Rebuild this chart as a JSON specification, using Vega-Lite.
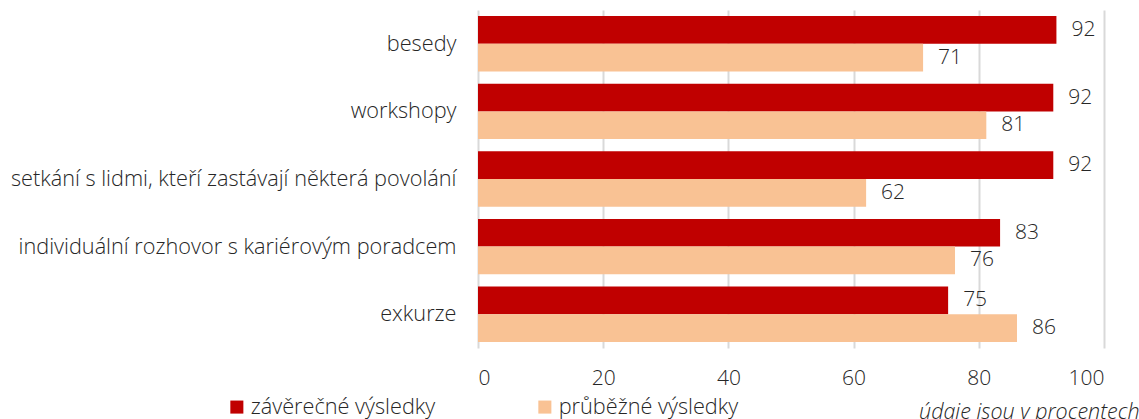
{
  "$schema": "https://vega.github.io/schema/vega-lite/v6.json",
  "width": 626,
  "height": 338,
  "autosize": {"type": "none"},
  "padding": {"left": 478, "top": 10, "right": 35, "bottom": 71},
  "background": "white",
  "config": {
    "font": "Open Sans",
    "view": {"stroke": null}
  },
  "data": {
    "values": [
      {"kategorie": "besedy", "serie": "závěrečné výsledky", "hodnota": 92.4},
      {"kategorie": "besedy", "serie": "průběžné výsledky", "hodnota": 71.1},
      {"kategorie": "workshopy", "serie": "závěrečné výsledky", "hodnota": 91.9},
      {"kategorie": "workshopy", "serie": "průběžné výsledky", "hodnota": 81.2},
      {"kategorie": "setkání s lidmi, kteří zastávají některá povolání", "serie": "závěrečné výsledky", "hodnota": 91.9},
      {"kategorie": "setkání s lidmi, kteří zastávají některá povolání", "serie": "průběžné výsledky", "hodnota": 62.0},
      {"kategorie": "individuální rozhovor s kariérovým poradcem", "serie": "závěrečné výsledky", "hodnota": 83.4},
      {"kategorie": "individuální rozhovor s kariérovým poradcem", "serie": "průběžné výsledky", "hodnota": 76.2},
      {"kategorie": "exkurze", "serie": "závěrečné výsledky", "hodnota": 75.1},
      {"kategorie": "exkurze", "serie": "průběžné výsledky", "hodnota": 86.1}
    ]
  },
  "encoding": {
    "y": {
      "field": "kategorie",
      "type": "nominal",
      "sort": null,
      "scale": {"paddingInner": 0.18, "paddingOuter": 0.09},
      "axis": {
        "title": null,
        "ticks": false,
        "domain": false,
        "labelPadding": 22,
        "labelFontSize": 21.7,
        "labelColor": "#262626",
        "labelFontWeight": 300,
        "labelLimit": 500
      }
    },
    "yOffset": {
      "field": "serie",
      "type": "nominal",
      "sort": ["závěrečné výsledky", "průběžné výsledky"],
      "scale": {"paddingInner": 0, "paddingOuter": 0}
    },
    "x": {
      "field": "hodnota",
      "type": "quantitative",
      "scale": {"domain": [0, 100]},
      "axis": {
        "values": [0, 20, 40, 60, 80, 100],
        "grid": true,
        "gridColor": "#d9d9d9",
        "gridWidth": 2,
        "ticks": false,
        "domain": false,
        "labelPadding": 19,
        "labelFontSize": 21,
        "labelColor": "#262626",
        "labelFontWeight": 300,
        "title": "údaje jsou v procentech",
        "titleFontStyle": "italic",
        "titleFontWeight": 300,
        "titleFontSize": 21.5,
        "titleColor": "#262626",
        "titleAnchor": "end",
        "titleAlign": "right",
        "titleBaseline": "alphabetic",
        "titleX": 661,
        "titleY": 70
      }
    }
  },
  "layer": [
    {
      "mark": {"type": "bar"},
      "encoding": {
        "color": {
          "field": "serie",
          "type": "nominal",
          "sort": ["závěrečné výsledky", "průběžné výsledky"],
          "scale": {
            "domain": ["závěrečné výsledky", "průběžné výsledky"],
            "range": ["#c00000", "#f9c294"]
          },
          "legend": {
            "title": null,
            "orient": "none",
            "legendX": -252,
            "legendY": 386,
            "direction": "horizontal",
            "symbolType": "square",
            "symbolSize": 170,
            "symbolStrokeWidth": 0,
            "symbolOpacity": 1,
            "labelFontSize": 21.7,
            "labelColor": "#262626",
            "labelFontWeight": 300,
            "labelOffset": 3,
            "labelLimit": 400,
            "columnPadding": 98
          }
        }
      }
    },
    {
      "mark": {"type": "text", "align": "left", "dx": 15, "fontSize": 21, "fontWeight": 300, "color": "#262626"},
      "encoding": {
        "text": {"field": "hodnota", "type": "quantitative", "format": ".0f"}
      }
    }
  ]
}
